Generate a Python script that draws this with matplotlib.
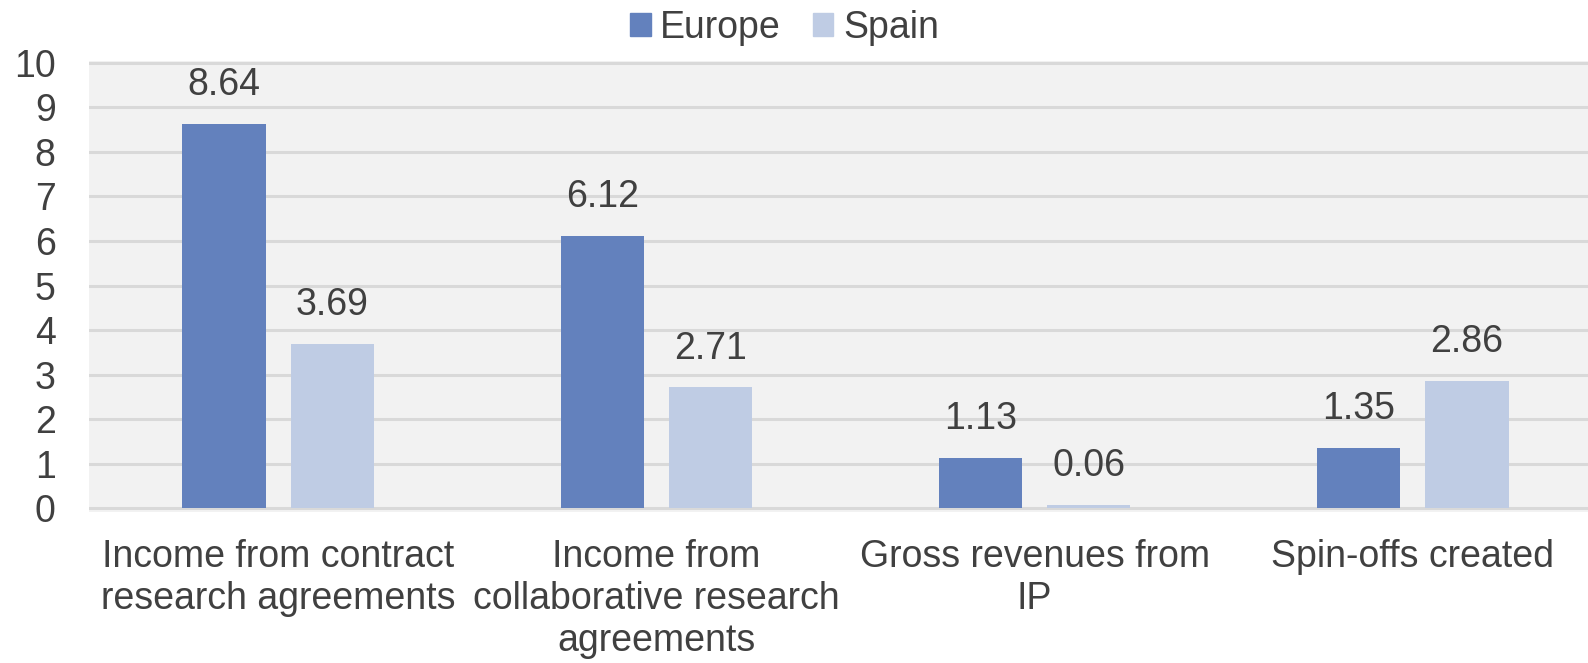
import numpy as np
import matplotlib
matplotlib.use("Agg")
from matplotlib import pyplot as plt
from matplotlib.patches import Patch

# Data
categories = ["Income from contract\nresearch agreements",
              "Income from\ncollaborative research\nagreements",
              "Gross revenues from\nIP",
              "Spin-offs created"]
europe = [8.64, 6.12, 1.13, 1.35]
spain = [3.69, 2.71, 0.06, 2.86]
series_names = ["Europe", "Spain"]
yticks = list(range(0, 11))

# Styling
c_europe = "#6381bd"
c_spain = "#bfcce4"
c_text = "#404040"
fs = 27

plt.rcParams['font.family'] = ['Liberation Sans', 'DejaVu Sans']

fig = plt.figure(figsize=(15.88, 6.63), dpi=100, facecolor='w')
# axes runs past the right edge, the source chart was cropped there
ax = fig.add_axes([89/1588, 1-511.6/663, (1602-89)/1588, (511.6-61.2)/663])
ax.set_facecolor("#f2f2f2")

x = np.arange(len(categories))
w = 0.22
off = 0.143
b1 = ax.bar(x - off, europe, w, color=c_europe, zorder=3)
b2 = ax.bar(x + off, spain, w, color=c_spain, zorder=3)

# value labels above bars
for bars, vals in ((b1, europe), (b2, spain)):
    for rect, v in zip(bars, vals):
        ax.annotate(f"{v:.2f}", (rect.get_x() + rect.get_width()/2, v),
                    xytext=(0, 28), textcoords="offset points",
                    ha="center", va="center", fontsize=fs, color=c_text)

ax.set_xlim(-0.5, 3.5)
ax.set_ylim(-0.08, 10.04)
ax.set_yticks(yticks)
ax.yaxis.grid(True, color="#d9d9d9", lw=2.2, zorder=1)
ax.set_axisbelow(True)
for s in ax.spines.values():
    s.set_visible(False)

ax.set_xticks(x)
ax.set_xticklabels(categories, fontsize=fs, color=c_text, linespacing=1.2)
ax.tick_params(axis="x", length=0, pad=20)
ax.tick_params(axis="y", length=0, pad=24, labelsize=fs, labelcolor=c_text)

handles = [Patch(color=c_europe), Patch(color=c_spain)]
fig.legend(handles, series_names, loc="center", bbox_to_anchor=(0.494, 0.958),
           ncol=2, frameon=False, fontsize=fs, labelcolor=c_text,
           handlelength=0.55, handleheight=0.55, handletextpad=0.25,
           columnspacing=0.85)

fig.savefig("out.png", dpi=100, facecolor='w')
